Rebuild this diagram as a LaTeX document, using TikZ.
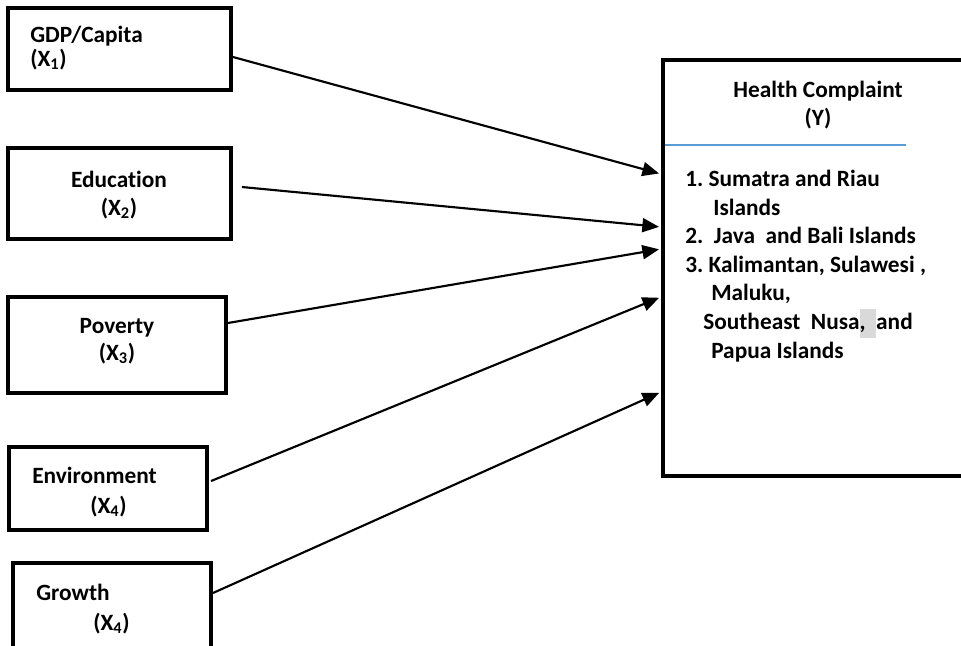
\documentclass[tikz,border=0pt]{standalone}
\usepackage{fontspec}
\setmainfont{Carlito}[Ligatures={NoCommon}]
\usetikzlibrary{arrows.meta}
\frenchspacing

\definecolor{ruleblue}{RGB}{91,155,213}
\definecolor{hlgray}{RGB}{217,217,217}

\begin{document}
\begin{tikzpicture}[
    x=0.75pt, y=-0.75pt,
    varbox/.style={draw, line width=3pt, inner sep=0pt},
    lbl/.style={font=\fontsize{17.5}{21}\selectfont\bfseries, inner sep=0pt},
    arr/.style={line width=1.6pt, shorten >=1.5pt, -{Triangle[length=12.5pt,width=10.5pt]}}
]

\useasboundingbox (0,0) rectangle (961,646);
\fill[white] (0,0) rectangle (961,646);
\clip (0,0) rectangle (961,646);

% Input boxes
\node[varbox, minimum width=167.25pt, minimum height=61.5pt] (gdp) at (119.5,49) {};
\node[varbox, minimum width=167.25pt, minimum height=68.25pt] (edu) at (119,193) {};
\node[varbox, minimum width=163.5pt, minimum height=72pt] (pov) at (117,345) {};
\node[varbox, minimum width=148.5pt, minimum height=62.25pt] (env) at (108,488.5) {};
\node[varbox, minimum width=148.5pt, minimum height=76.5pt] (grow) at (112,614) {};

% Labels of the input boxes (anchored at the last baseline)
\node[lbl, align=left, anchor=base west] (gdpT) at (30,66) {GDP/Capita\\[-3.5pt](X\textsubscript{1})};
\node[lbl, align=center, anchor=base] (eduT) at (119,215) {Education\\(X\textsubscript{2})};
\node[lbl, align=center, anchor=base] (povT) at (117,360) {Poverty\\[-0.75pt](X\textsubscript{3})};
\node[lbl, align=left, anchor=base west] (envT) at (32,513) {Environment\\[1.5pt]\hspace*{43.5pt}(X\textsubscript{4})};
\node[lbl, align=left, anchor=base west] (growT) at (36,630) {Growth\\[1.5pt]\hspace*{42.75pt}(X\textsubscript{4})};

% Output box
\node[varbox, minimum width=260.25pt, minimum height=312pt] (health) at (836.5,268) {};
\node[lbl, align=center, anchor=base] (healthT) at (818,125) {Health Complaint\\(Y)};
\draw[ruleblue, line width=0.8pt] (665,145) coordinate (ruleL) -- (906,145) coordinate (ruleR);
\node[lbl, align=left, anchor=base west, font=\fontsize{17.5}{21.4}\selectfont\bfseries] (islands) at (685,358) {%
  1. Sumatra and Riau\\
  \hspace*{21pt}Islands\\
  2.\ \ Java\ \ and Bali Islands\\
  3. Kalimantan, Sulawesi ,\\
  \hspace*{19.5pt}Maluku,\\
  \hspace*{13.5pt}Southeast\ \ Nusa{\setlength{\fboxsep}{0pt}\colorbox{hlgray}{\strut,\ \ }}and\\
  \hspace*{19.5pt}Papua Islands};

% Arrows
\draw[arr] ([yshift=-6pt]gdp.east) -- ([yshift=70.5pt]health.west);
\draw[arr] ([xshift=7pt,yshift=4.5pt]edu.east) -- ([yshift=30.75pt]health.west);
\draw[arr] ([yshift=16.5pt]pov.east) -- ([yshift=14.25pt]health.west);
\draw[arr] ([xshift=1.5pt,yshift=5.6pt]env.east) -- ([yshift=-21.75pt]health.west);
\draw[arr] ([yshift=15.75pt]grow.east) -- ([yshift=-93pt]health.west);

\end{tikzpicture}
\end{document}
